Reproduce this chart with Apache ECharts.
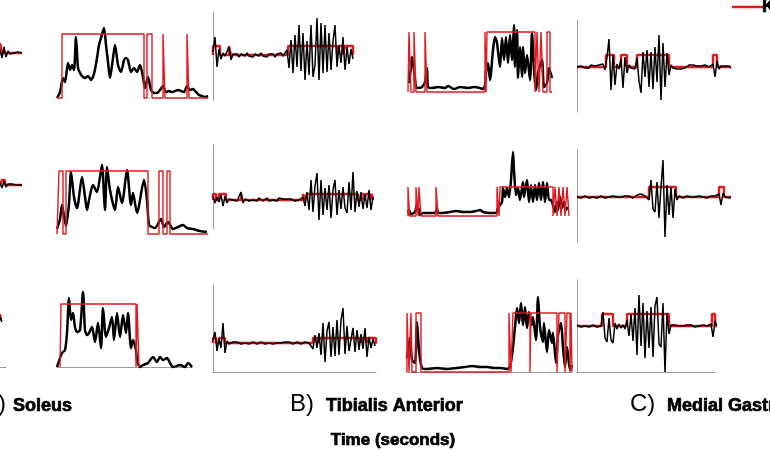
<!DOCTYPE html>
<html>
<head>
<meta charset="utf-8">
<script src="https://cdn.jsdelivr.net/npm/echarts@6/dist/echarts.min.js"></script>
<style>
  html, body { margin: 0; padding: 0; background: #fff; }
  #chart { width: 770px; height: 450px; }
</style>
</head>
<body>
<div id="chart"></div>
<script>
// ---- envelope traces: [time, amplitude] ----
const solEnv1 = [[0,0],[3,0.6],[6,2.0],[8,1.6],[11,3.5],[13,2.8],[15,3.3],[17,2.8],[19,6.1],[21,3.0],[23,2.5],[25,2.2],[28,2.0],[31,2.2],[34,1.8],[37,2.4],[40,4.0],[42,5.3],[44,6.0],[47,7.0],[49,5.3],[51,3.6],[53,2.0],[56,4.0],[58,5.3],[61,3.3],[64,2.6],[67,3.8],[69,4.0],[71,3.8],[74,2.6],[77,3.0],[80,2.6],[83,3.3],[86,2.1],[88,1.0],[91,2.1],[94,0.8],[97,0.5],[100,0.5],[103,0.8],[106,1.2],[109,0.6],[112,0.7],[115,0.6],[118,0.7],[121,0.8],[124,0.7],[127,0.6],[130,1.2],[133,0.8],[136,0.9],[139,0.6],[142,0.3],[145,0.2],[148,0.1],[151,0.2]];
const solEnv2 = [[0,0.5],[3,1.5],[5,2.9],[7,1.8],[9,0.8],[12,3.0],[14,6.2],[17,3.7],[20,2.6],[25,5.7],[28,3.7],[30,2.4],[32,3.4],[36,4.9],[40,4.2],[43,5.7],[45,6.9],[48,2.4],[50,6.7],[53,4.4],[58,2.4],[61,4.7],[65,3.1],[70,6.4],[74,2.9],[76,4.1],[80,2.1],[87,5.4],[90,3.4],[92,0.9],[95,0.7],[98,0.6],[104,1.5],[107,0.7],[111,1.2],[116,0.5],[121,0.7],[126,0.9],[130,0.6],[136,0.5],[143,0.3],[150,0.2]];
const solEnv3 = [[0,0],[5,1.4],[8,1.7],[10,3.4],[12,6.9],[14,4.7],[16,5.4],[18,4.0],[20,3.5],[23,3.7],[26,7.5],[28,3.7],[30,3.2],[32,3.4],[35,4.0],[38,2.5],[41,4.4],[44,1.9],[46,5.9],[49,3.0],[52,3.9],[55,5.0],[57,2.7],[60,5.4],[63,3.0],[66,5.2],[69,3.4],[71,5.4],[74,1.9],[76,2.7],[79,1.7],[80,0.7],[83,0.0],[86,0.2],[91,0.4],[96,1.0],[100,0.5],[103,1.0],[106,0.7],[110,0.9],[113,0.4],[116,0.0],[123,0.2],[128,0.0],[131,0.4],[135,0.0]];
const taEnv1 = [[1,0.9],[3,2.5],[4,3.5],[6,2.2],[8,0.5],[10,0.4],[14,0.5],[17,1.0],[19,2.4],[20,0.5],[24,0.4],[30,0.5],[37,0.4],[40,0.6],[46,0.3],[52,0.5],[60,0.4],[66,0.5],[72,0.4],[75,0.3],[77,0.7],[78,2.0],[80,2.9],[82,1.2],[85,4.2],[87,5.5],[89,4.9],[92,2.5],[94,5.4],[96,3.2],[98,5.5],[100,2.9],[102,5.7],[104,3.2],[106,6.7],[107,2.5],[109,6.2],[110,1.4],[112,4.5],[114,1.5],[115,4.5],[117,1.9],[119,3.7],[122,1.2],[124,5.9],[126,2.2],[128,0.2],[130,1.9],[134,3.2],[136,0.5],[139,0.9],[141,2.4],[144,1.4]];
const taEnv2 = [[0,0.3],[1,0.6],[3,0.2],[7,0.4],[9,1.1],[11,0.6],[12,0.1],[15,0.3],[22,0.3],[27,0.3],[29,0.8],[30,0.3],[35,0.3],[42,0.4],[48,0.5],[55,0.4],[62,0.4],[68,0.5],[72,0.6],[75,0.4],[82,0.3],[88,0.3],[90,0.8],[94,1.4],[95,2.8],[97,1.9],[99,2.8],[101,1.9],[103,3.6],[105,6.4],[106,4.6],[108,2.1],[110,2.8],[112,1.6],[115,3.4],[116,1.9],[119,3.6],[121,1.4],[123,3.1],[125,1.4],[127,3.1],[129,1.6],[131,3.3],[133,1.6],[135,3.4],[137,1.4],[139,3.3],[141,1.6],[143,1.6],[145,1.1],[147,0.4],[149,1.4],[150,0.6],[152,1.9],[154,0.8],[156,1.4],[158,0.6],[160,0.9]];
const taEnv3 = [[0,1.4],[3,3.4],[5,1.2],[8,0.9],[10,5.0],[12,2.2],[15,0.4],[20,0.3],[30,0.4],[40,0.3],[50,0.4],[58,0.5],[65,0.6],[73,0.5],[80,0.5],[87,0.4],[94,0.4],[100,0.3],[103,0.5],[106,2.5],[108,4.5],[110,6.4],[112,4.9],[114,6.9],[116,4.7],[118,6.5],[120,4.4],[122,6.0],[125,4.7],[126,5.5],[129,3.2],[131,7.5],[133,4.5],[136,3.0],[137,4.9],[140,2.0],[142,4.2],[145,2.9],[146,3.9],[149,0.9],[151,3.7],[154,4.9],[156,2.5],[158,0.5],[160,2.5],[163,0.2],[165,0.7]];

// ---- raw EMG traces: one sample every 2 time units ----
const solRaw1 = [0.3,-0.5,0.6,-0.4,0.2,-0.1,0.1,0,-0.1,0.1,0,0];
const solRaw2 = [0.2,-0.3,0.4,-0.2,0.1,0,0.1,-0.1,0,0.1,0,0];
const solRaw3 = [0.3,-0.2];
const taRaw1 = [0.3,1.8,-1.2,0.6,-0.4,0.2,-0.1,0.1,0.8,-0.5,0.1,
  -0.1,0.1,-0.2,0.1,0,-0.1,0.2,-0.1,0.1,-0.2,0.1,0,-0.1,0.2,-0.1,0.1,-0.2,0.1,-0.1,0.1,-0.2,0.1,-0.1,0.2,-0.1,0.1,
  0.5,-1.3,1.5,-1.8,2.0,-1.2,3.0,-1.6,2.2,-2.5,1.4,-2.0,3.0,-2.2,-1.0,3.7,-2.5,3.2,-1.8,3.0,-1.7,2.2,-1.5,1.4,3.0,-1.2,1.0,-0.8,1.8,-1.5,0.8,-0.9,0.6,-0.4];
const taRaw2 = [0.4,-0.3,0.3,-0.2,0.5,-0.6,0.4,-0.3,0.1,-0.1,0,0.1,-0.1,0,0.8,-0.3,0.1,
  0,-0.1,0.1,0,0.1,-0.1,0.2,0,-0.1,0.1,0.2,-0.1,0.1,0,0.1,-0.1,0.2,0,0.1,-0.1,0.1,0,0.1,0,-0.1,0.1,0,0.1,
  0.3,-0.6,0.8,-1.0,2.0,-1.2,1.4,2.7,-2.0,2.0,-1.5,1.2,-1.0,1.5,-1.8,1.0,2.0,-1.5,1.0,-0.9,1.3,-0.8,-1.3,1.8,-1.0,2.8,-1.2,0.9,-0.7,0.8,-0.9,0.6,-0.8,1.0,-1.0,0.3];
const taRaw3 = [0.3,1.1,-0.8,0.4,-0.5,2.0,-1.0,0.2,-0.1,
  0,0.1,-0.1,0.1,0,-0.1,0.1,0,0.1,-0.1,0,0.1,0,-0.1,0.1,0.1,0,-0.1,0.1,0,0.1,-0.1,0.1,0,0.1,0,-0.1,0.1,0,0.1,0,-0.1,0,0.1,0,-0.1,0,0.1,0,0,0.1,
  -0.6,0.8,-0.5,1.0,-1.2,2.0,-1.9,1.2,2.1,-1.4,1.6,-1.3,2.3,-1.2,2.3,3.5,-1.1,1.7,-0.8,-1.0,1.5,-0.9,1.3,-0.7,0.9,-0.6,1.5,-1.4,0.6,-0.5,0.4,-0.3];
const mgRaw1 = [0,-0.1,0.1,0,-0.1,0.1,-0.1,0.2,0,0.1,-0.1,0.2,0,0.3,
  -0.3,1.0,2.8,-2.3,1.2,-1.8,0.3,-0.2,0.8,-2.1,1.0,-0.6,0.2,-0.1,0.1,-0.2,
  0.9,-1.4,-2.6,1.5,-1.0,1.7,-2.0,1.5,-2.2,2.0,-1.5,3.2,-3.3,2.4,-2.0,1.4,-0.8,
  0.2,-0.1,0,-0.2,-0.1,-0.2,0,-0.1,0.1,0.2,0.1,0.2,0,0.1,0.2,0.1,0,0.2,0.1,0,0.1,
  0.3,-1.0,0.6,-0.2,0.1,-0.1,0.1,0,0.1,-0.1];
const mgRaw2 = [0,0.1,-0.1,0,0.1,0,-0.1,0.1,0,0.1,-0.1,0,0.1,0,-0.1,0.1,0,0,0.1,-0.1,0,0.1,0,-0.1,0.1,0,0.1,0,-0.1,0.1,0.2,0.1,0.3,0.2,0.1,0.3,
  -0.3,1.7,-1.2,-1.5,1.5,-2.1,1.0,3.7,-4.0,1.2,-1.8,1.0,-2.1,0.8,-0.3,
  0.1,0,-0.1,0,0.1,-0.1,0,0.1,0,-0.1,0.1,0,0,0.1,-0.1,0,0.1,0,0.1,0,
  0.3,-0.8,0.4,0,0.1,-0.1,0];
const mgRaw3 = [0.1,0,-0.1,0.1,0,0.1,-0.1,0,0.1,0,-0.1,0.1,0,
  1.4,-1.2,-1.6,0.8,-1.4,-1.7,0.3,-0.3,0.2,-0.2,0.1,-0.3,0.6,-1.0,1.2,-1.5,1.8,-2.9,3.1,-2.0,2.3,-3.2,1.5,-2.2,1.9,-3.1,2.0,2.9,-1.8,-2.1,2.3,-4.6,1.3,-0.8,
  0.1,0,0.1,-0.1,0,0.1,0,-0.1,0.1,0,0.1,0,-0.1,0.1,0,0,0.1,-0.1,0,0.1,
  0.2,-1.1,0.5,0,0.1,-0.1,0];

// ---- detected on/off periods: [start, end] ----
const solOn1 = [[5,87],[90,95],[106,108],[130,132]];
const solOn2 = [[2,6],[9,91],[102,106],[110,113]];
const solOn3 = [[4,79],[80,82]];
const taOn1 = [[1,3],[6,8],[17,19],[77,78],[79,127],[129,131],[133,135],[139,142]];
const taOn2 = [[0,1.5],[8,10],[11,13],[28,30],[89,91],[92,145],[147,149],[151,153],[155,157],[159,161]];
const taOn3 = [[0,2],[4,5],[9,14],[102,104],[106,123],[124,150],[152,158],[160,163],[164,165]];
const solRawOn1 = [[0,2]];
const solRawOn2 = [[2,5]];
const solRawOn3 = [[0,1]];
const taRawOn1 = [[0,7],[16,18],[75,124],[126,130],[132,140]];
const taRawOn2 = [[0,3],[6,13],[28,29],[90,92],[94,145],[148,151],[153,157],[159,160]];
const taRawOn3 = [[0,3],[6,12],[100,105],[107,147],[149,154],[155,163]];
const mgRawOn1 = [[29,37],[44,50],[60,92],[136,140]];
const mgRawOn2 = [[72,99],[142,147]];
const mgRawOn3 = [[25,36],[50,92],[135,138]];

// on-state marker heights
const envOnLevels = [6.4, 6.3, 6.3, 6.0, 2.9, 5.9];
const rawOnLevels = [1.0, 0.5, 0.6, 0.9, 0.6, 0.5, 1.2, 1.0, 1.2];

const labels = ['A)', 'Soleus', 'B)', 'Tibialis Anterior', 'C)', 'Medial Gastrocnemius'];
const xTitle = 'Time (seconds)';

// ---- layout of the small panels ----
const panels = [
  // row 1
  {kind:'raw', left:0,   top:10,  width:22,  height:86, x:22,  y:[-4.3,4.3], data:solRaw1, on:solRawOn1, level:rawOnLevels[0], axes:''},
  {kind:'env', left:57,  top:20,  width:151, height:78, x:151, y:[0,7.8], data:solEnv1, on:solOn1, level:envOnLevels[0], range:[0,151], axes:''},
  {kind:'raw', left:213, top:12,  width:141, height:88, x:141, y:[-4.5,4.3], data:taRaw1, on:taRawOn1, level:rawOnLevels[3], axes:'y'},
  {kind:'env', left:408, top:20,  width:144, height:72, x:144, y:[0,7.2], data:taEnv1, on:taOn1, level:envOnLevels[3], range:[0,144], axes:''},
  {kind:'raw', left:577, top:20,  width:155, height:92, x:155, y:[-4.5,4.7], data:mgRaw1, on:mgRawOn1, level:rawOnLevels[6], axes:'y'},
  // row 2
  {kind:'raw', left:0,   top:140, width:22,  height:90, x:22,  y:[-4.5,4.5], data:solRaw2, on:solRawOn2, level:rawOnLevels[1], axes:''},
  {kind:'env', left:57,  top:150, width:151, height:84, x:151, y:[0,8.4], data:solEnv2, on:solOn2, level:envOnLevels[1], range:[0,151], axes:''},
  {kind:'raw', left:213, top:145, width:160, height:84, x:160, y:[-2.9,5.5], data:taRaw2, on:taRawOn2, level:rawOnLevels[4], axes:'y'},
  {kind:'env', left:408, top:145, width:161, height:71, x:161, y:[0,7.1], data:taEnv2, on:taOn2, level:envOnLevels[4], range:[0,161], axes:''},
  {kind:'raw', left:577, top:150, width:155, height:92, x:155, y:[-4.5,4.7], data:mgRaw2, on:mgRawOn2, level:rawOnLevels[7], axes:'y'},
  // row 3
  {kind:'raw', left:0,   top:273, width:6,   height:94, x:6,   y:[-4.7,4.7], data:solRaw3, on:solRawOn3, level:rawOnLevels[2], axes:'x'},
  {kind:'env', left:57,  top:280, width:135, height:87, x:135, y:[0,8.7], data:solEnv3, on:solOn3, level:envOnLevels[2], range:[3,82], axes:'x'},
  {kind:'raw', left:213, top:285, width:163, height:87, x:163, y:[-2.9,5.8], data:taRaw3, on:taRawOn3, level:rawOnLevels[5], axes:'xy'},
  {kind:'env', left:407, top:290, width:165, height:82, x:165, y:[0,8.2], data:taEnv3, on:taOn3, level:envOnLevels[5], range:[0,165], axes:'x'},
  {kind:'raw', left:577, top:280, width:138, height:92, x:138, y:[-4.6,4.6], data:mgRaw3, on:mgRawOn3, level:rawOnLevels[8], axes:'xy'}
];

const RED = '#e3191f';
const AXIS = '#9a9a9a';
const FONT = '"Liberation Sans", Arial, sans-serif';

// step outline of the on/off detection
function steps(segs, level, t0, t1) {
  const pts = [[t0, 0]];
  segs.forEach(([s, e]) => { pts.push([s, 0], [s, level], [e, level], [e, 0]); });
  pts.push([t1, 0]);
  return pts;
}

function axis(i, min, max, showLine) {
  return {
    type: 'value', gridIndex: i, min: min, max: max,
    axisLine: { show: showLine, onZero: false, lineStyle: { color: AXIS, width: 1 } },
    axisTick: { show: false }, axisLabel: { show: false }, splitLine: { show: false }
  };
}

const grid = [], xAxis = [], yAxis = [], series = [];
panels.forEach((p, i) => {
  grid.push({ left: p.left, top: p.top, width: p.width, height: p.height });
  xAxis.push(axis(i, 0, p.x, p.axes.includes('x')));
  yAxis.push(axis(i, p.y[0], p.y[1], p.axes.includes('y')));
  const raw = p.kind === 'raw';
  const pts = raw ? p.data.map((v, k) => [k * 2, v]) : p.data;
  const t0 = raw ? 0 : p.range[0];
  const t1 = raw ? (p.data.length - 1) * 2 : p.range[1];
  const red = {
    type: 'line', xAxisIndex: i, yAxisIndex: i, data: steps(p.on, p.level, t0, t1),
    showSymbol: false, clip: false, z: raw ? 2 : 4,
    lineStyle: { color: RED, width: raw ? 2.4 : 1.4 }
  };
  const black = {
    type: 'line', xAxisIndex: i, yAxisIndex: i, data: pts,
    showSymbol: false, clip: false, z: 3, smooth: raw ? false : 0.25,
    lineStyle: { color: '#000', width: raw ? 1.5 : 2.5 }
  };
  series.push(red, black);
});

// heavy caption text
function caption(text, x, y, size, bold, align) {
  return {
    type: 'text', x: x, y: y,
    style: {
      text: text, align: align || 'left', verticalAlign: 'middle',
      font: (bold ? 'bold ' : 'normal ') + size + 'px ' + FONT,
      fill: '#000', stroke: bold ? '#000' : null, lineWidth: bold ? 0.7 : 0
    }
  };
}

const chart = echarts.init(document.getElementById('chart'), null, { renderer: 'canvas' });
chart.setOption({
  animation: false,
  backgroundColor: '#fff',
  grid, xAxis, yAxis, series,
  graphic: [
    caption(labels[0], 6, 404, 24, false, 'right'),
    caption(labels[1], 13, 406, 18, true),
    caption(labels[2], 290, 404, 24, false),
    caption(labels[3], 326, 406, 18, true),
    caption(labels[4], 630, 404, 24, false),
    caption(labels[5], 667, 406, 18, true),
    caption(xTitle, 393, 440, 17, true, 'center'),
    { type: 'line', shape: { x1: 732, y1: 7, x2: 763, y2: 7 }, style: { stroke: RED, lineWidth: 2.5 } },
    caption('K', 762, 7, 18, true)
  ]
});
</script>
</body>
</html>
